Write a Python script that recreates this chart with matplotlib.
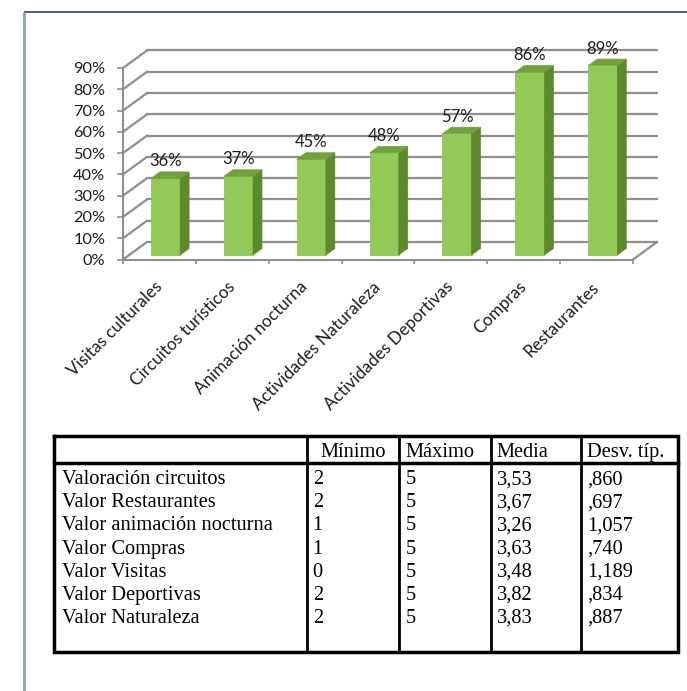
import matplotlib
matplotlib.use("Agg")
import matplotlib.pyplot as plt
from matplotlib.patches import Polygon

# ---------------- data ----------------
categories = ["Visitas culturales", "Circuitos turísticos", "Animación nocturna",
              "Actividades Naturaleza", "Actividades Deportivas", "Compras", "Restaurantes"]
values = [36, 37, 45, 48, 57, 86, 89]
y_ticks = [0, 10, 20, 30, 40, 50, 60, 70, 80, 90]

table_header = ["Mínimo", "Máximo", "Media", "Desv. típ."]
row_labels = ["Valoración circuitos", "Valor Restaurantes", "Valor animación nocturna",
              "Valor Compras", "Valor Visitas", "Valor Deportivas", "Valor Naturaleza"]
minimo = [2, 2, 1, 1, 0, 2, 2]
maximo = [5, 5, 5, 5, 5, 5, 5]
media = [3.53, 3.67, 3.26, 3.63, 3.48, 3.82, 3.83]
desv = [0.860, 0.697, 1.057, 0.740, 1.189, 0.834, 0.887]

# ---------------- layout ----------------
W, H = 687, 691
fig = plt.figure(figsize=(W / 100, H / 100), dpi=100)
fig.patch.set_facecolor("white")

SANS = ["Lato", "DejaVu Sans"]
SERIF = ["Liberation Serif", "DejaVu Serif"]
TXT = "#1e1e1e"
GRID = "#8f8f8f"

# overlay axes in pixel coordinates (frame + table)
ov = fig.add_axes([0, 0, 1, 1])
ov.set_xlim(0, W)
ov.set_ylim(H, 0)
ov.axis("off")
ov.patch.set_alpha(0)

# page frame lines
ov.plot([24, W], [12.3, 12.3], color="#3d5570", lw=1.3, solid_capstyle="butt")
ov.plot([24.3, 24.3], [12, H], color="#98a4b6", lw=2.2, solid_capstyle="butt")

# chart axes: front floor edge = axes bottom
x_left, x_right = 123, 633
y_bot, y_top = 259.5, 68
ax = fig.add_axes([x_left / W, 1 - y_bot / H, (x_right - x_left) / W, (y_bot - y_top) / H])
n = len(categories)
ax.set_xlim(-0.5, n - 0.5)
ax.set_ylim(y_ticks[0], y_ticks[-1])
ax.patch.set_alpha(0)

# depth offsets (pixels) converted to data units
DX_PX, DY_PX = 24, 17.5
px_x = (x_right - x_left) / n
px_y = (y_bot - y_top) / (y_ticks[-1] - y_ticks[0])
dxd = DX_PX / px_x
dyd = DY_PX / px_y

for s in ["top", "right"]:
    ax.spines[s].set_visible(False)
for s in ["left", "bottom"]:
    ax.spines[s].set_color(GRID)
    ax.spines[s].set_linewidth(1.5)

# y axis
ax.set_yticks(y_ticks)
ax.set_yticklabels([f"{v}%" for v in y_ticks], fontfamily=SANS, fontsize=11.8, color=TXT)
ax.tick_params(axis="y", direction="out", length=4.3, width=1.2, color=GRID, pad=8.5)

# x axis: boundary ticks + centered labels
ax.set_xticks([i - 0.5 for i in range(n + 1)])
ax.set_xticklabels([])
ax.tick_params(axis="x", which="major", direction="out", length=3, width=1.2, color=GRID)
ax.set_xticks(range(n), minor=True)
ax.set_xticklabels(categories, minor=True, fontfamily=SANS, fontsize=12.3, color=TXT,
                   rotation=45, ha="right", va="center", rotation_mode="anchor")
ax.tick_params(axis="x", which="minor", length=0, pad=18)

# walls: diagonal side lines + back gridlines + floor
for v in y_ticks:
    ax.plot([-0.5, -0.5 + dxd], [v, v + dyd], color=GRID, lw=1.6, clip_on=False, zorder=1)
    ax.plot([-0.5 + dxd, n - 0.5 + dxd], [v + dyd, v + dyd], color=GRID, lw=1.6,
            clip_on=False, zorder=1)
ax.plot([n - 0.5, n - 0.5 + dxd], [0, dyd], color=GRID, lw=1.6, clip_on=False, zorder=1)

# bars (3-D look)
w = 0.4
f1, f2 = 0.257, 0.63
FRONT, SIDE, TOP = "#92ca57", "#5c8a2c", "#71a33d"
xs = [i + f1 * dxd for i in range(n)]
ax.bar(xs, values, width=w, bottom=f1 * dyd, color=FRONT, edgecolor="#86bd4c",
       linewidth=0.5, zorder=3, clip_on=False)
ddx = (f2 - f1) * dxd
ddy = (f2 - f1) * dyd
for i, v in enumerate(values):
    x0 = xs[i] - w / 2
    x1 = xs[i] + w / 2
    y0 = f1 * dyd
    side = Polygon([(x1, y0), (x1 + ddx, y0 + ddy), (x1 + ddx, y0 + v + ddy), (x1, y0 + v)],
                   closed=True, facecolor=SIDE, edgecolor=SIDE, lw=0.5, zorder=3, clip_on=False)
    top = Polygon([(x0, y0 + v), (x1, y0 + v), (x1 + ddx, y0 + v + ddy), (x0 + ddx, y0 + v + ddy)],
                  closed=True, facecolor=TOP, edgecolor=TOP, lw=0.5, zorder=3, clip_on=False)
    ax.add_patch(side)
    ax.add_patch(top)
    ax.annotate(f"{v}%", (xs[i], v + y0), xytext=(0, 12.3), textcoords="offset points",
                ha="center", va="center", fontfamily=SANS, fontsize=12, color=TXT,
                annotation_clip=False, zorder=4)

# ---------------- table ----------------
t_left, t_right = 54, 678
t_top, t_bot = 435.7, 651.7
head_bot = 463
col_x = [306.7, 399.3, 490.7, 581]
LW_OUT = 2.5
ov.plot([t_left, t_right, t_right, t_left, t_left], [t_top, t_top, t_bot, t_bot, t_top],
        color="black", lw=LW_OUT, solid_joinstyle="miter")
ov.plot([t_left, t_right], [head_bot, head_bot], color="black", lw=LW_OUT)
for cx in col_x:
    ov.plot([cx, cx], [t_top, t_bot], color="black", lw=2.0)

FS = 14.7
head_base = 456.6
head_ha = ["center", "left", "left", "left"]
col_right = col_x[1:] + [t_right]
for j, h in enumerate(table_header):
    if head_ha[j] == "center":
        hx = (col_x[j] + col_right[j]) / 2
    else:
        hx = col_x[j] + 6
    ov.text(hx, head_base, h, ha=head_ha[j], va="baseline", fontfamily=SERIF, fontsize=FS,
            color="black")


def fmt_dec(v, d):
    s = f"{v:.{d}f}".replace(".", ",")
    if s.startswith("0,"):
        s = s[1:]
    return s


row_base0, row_step = 484.3, 23.07
for k, lab in enumerate(row_labels):
    yb = row_base0 + k * row_step
    cells = [str(minimo[k]), str(maximo[k]), fmt_dec(media[k], 2), fmt_dec(desv[k], 3)]
    ov.text(t_left + 8.5, yb, lab, ha="left", va="baseline", fontfamily=SERIF, fontsize=FS,
            color="black")
    for j, c in enumerate(cells):
        ov.text(col_x[j] + 6, yb, c, ha="left", va="baseline", fontfamily=SERIF, fontsize=FS,
                color="black")

fig.savefig("out.png", dpi=100, facecolor="white")
